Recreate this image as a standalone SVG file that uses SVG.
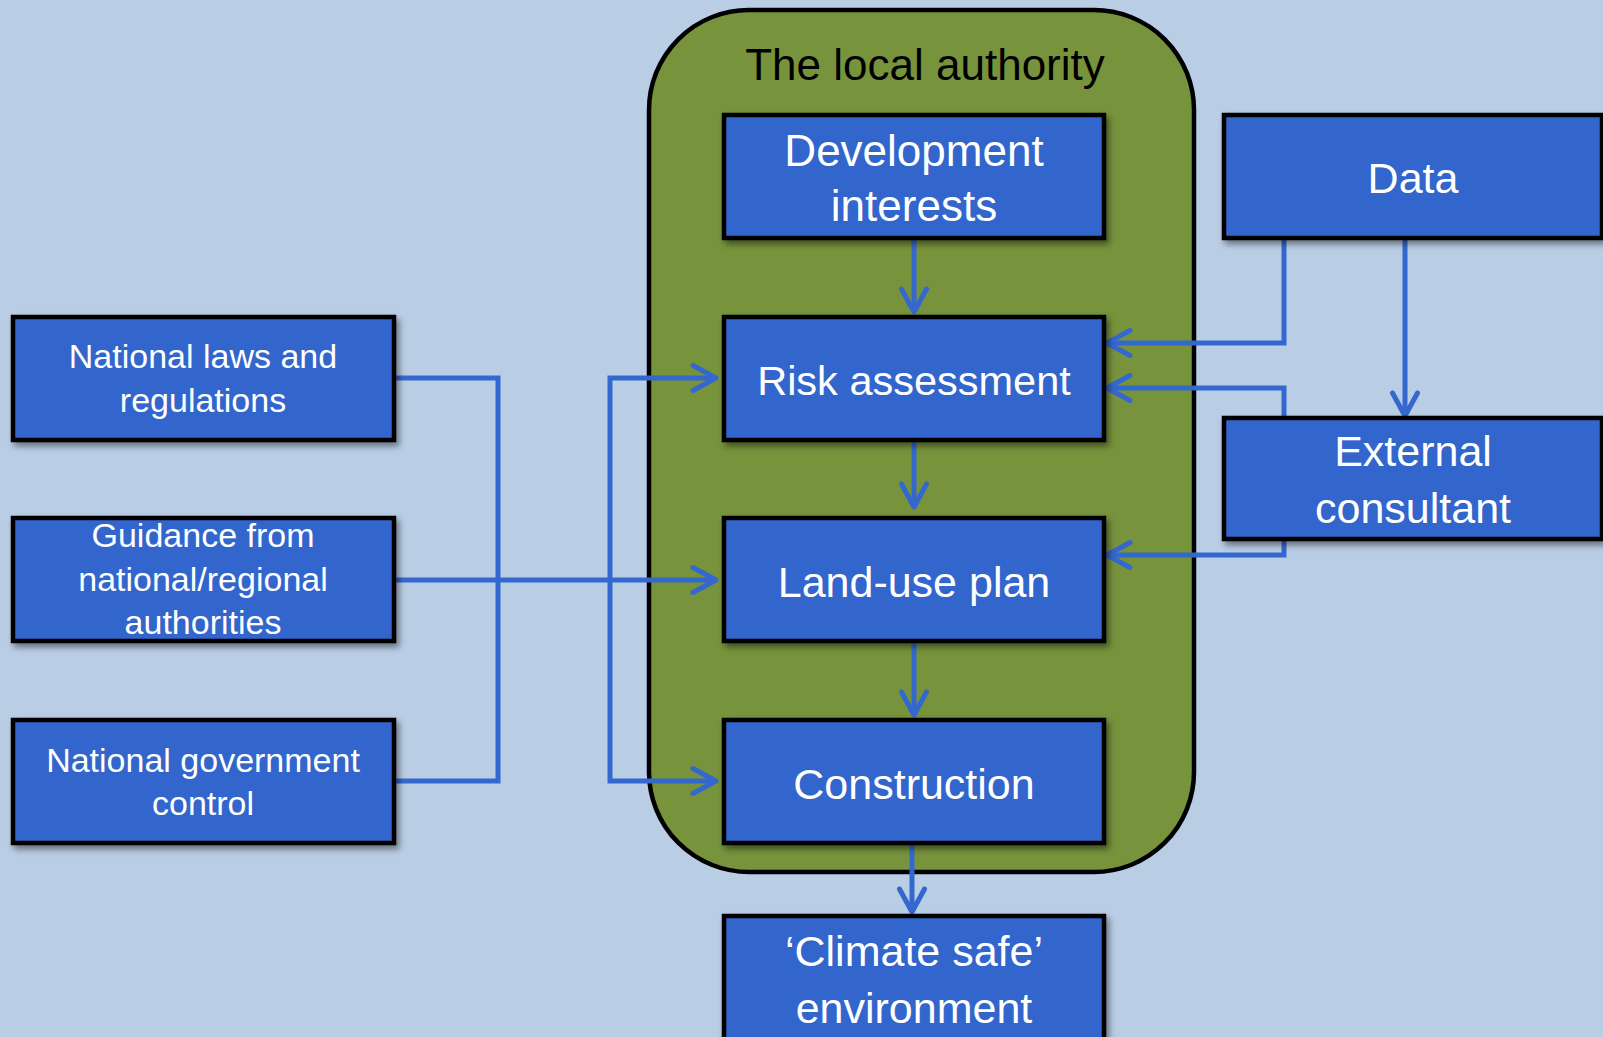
<svg xmlns="http://www.w3.org/2000/svg" width="1603" height="1037" viewBox="0 0 1603 1037">
<defs>
<style>
.box{fill:#3366CC;stroke:#000;stroke-width:4.5;filter:url(#sh)}
.t{font-family:"Liberation Sans",Arial,sans-serif;fill:#fff;text-anchor:middle;font-size:43px}
.ts{font-family:"Liberation Sans",Arial,sans-serif;fill:#fff;text-anchor:middle;font-size:34px}
.c{fill:none;stroke:#3568CF;stroke-width:5}
</style>
<filter id="sh" x="-10%" y="-10%" width="125%" height="130%">
<feDropShadow dx="3" dy="4" stdDeviation="3" flood-color="#000" flood-opacity="0.45"/>
</filter>
<marker id="ah" markerUnits="userSpaceOnUse" viewBox="-30 -16 34 32" refX="0" refY="0" markerWidth="34" markerHeight="32" orient="auto-start-reverse">
<path d="M-23 -12.5 L0 0 L-23 12.5" fill="none" stroke="#3568CF" stroke-width="5" stroke-linecap="round" stroke-linejoin="round"/>
</marker>
</defs>
<rect x="0" y="0" width="1603" height="1037" fill="#B9CDE5"/>
<g id="local-authority">
<rect x="649" y="10" width="545" height="862" rx="100" ry="100" fill="#77933C" stroke="#000" stroke-width="4.5"/>
<text x="925" y="80" font-family="Liberation Sans,Arial,sans-serif" font-size="44" fill="#000" text-anchor="middle">The local authority</text>
</g>
<g id="connectors">
<path class="c" d="M914 240 V312" marker-end="url(#ah)"/>
<path class="c" d="M914 442 V507" marker-end="url(#ah)"/>
<path class="c" d="M914 643 V715" marker-end="url(#ah)"/>
<path class="c" d="M912 844 V912" marker-end="url(#ah)"/>
<path class="c" d="M1284 239 V343 H1107" marker-end="url(#ah)"/>
<path class="c" d="M1405 239 V416" marker-end="url(#ah)"/>
<path class="c" d="M1284 416 V388 H1107" marker-end="url(#ah)"/>
<path class="c" d="M1284 541 V555 H1107" marker-end="url(#ah)"/>
<path class="c" d="M394 378 H498 V781 H394"/>
<path class="c" d="M394 580 H716" marker-end="url(#ah)"/>
<path class="c" d="M716 378 H610 V781 H716" marker-start="url(#ah)" marker-end="url(#ah)"/>
</g>
<g id="development-interests">
<rect class="box" x="724" y="115" width="380" height="123"/>
<text class="t" x="914" y="166" style="font-size:44px">Development</text>
<text class="t" x="914" y="221" style="font-size:44px">interests</text>
</g>
<g id="risk-assessment">
<rect class="box" x="724" y="317" width="380" height="123"/>
<text class="t" x="914" y="395" style="font-size:41.5px">Risk assessment</text>
</g>
<g id="land-use-plan">
<rect class="box" x="724" y="518" width="380" height="123"/>
<text class="t" x="914" y="597">Land-use plan</text>
</g>
<g id="construction">
<rect class="box" x="724" y="720" width="380" height="123"/>
<text class="t" x="914" y="799">Construction</text>
</g>
<g id="climate-safe">
<rect class="box" x="724" y="916" width="380" height="135"/>
<text class="t" x="914" y="966">‘Climate safe’</text>
<text class="t" x="914" y="1023">environment</text>
</g>
<g id="data">
<rect class="box" x="1224" y="115" width="378" height="123"/>
<text class="t" x="1413" y="193">Data</text>
</g>
<g id="external-consultant">
<rect class="box" x="1224" y="418" width="378" height="121"/>
<text class="t" x="1413" y="466">External</text>
<text class="t" x="1413" y="523">consultant</text>
</g>
<g id="national-laws">
<rect class="box" x="13" y="317" width="381" height="123"/>
<text class="ts" x="203" y="368">National laws and</text>
<text class="ts" x="203" y="412">regulations</text>
</g>
<g id="guidance">
<rect class="box" x="13" y="518" width="381" height="123"/>
<text class="ts" x="203" y="547">Guidance from</text>
<text class="ts" x="203" y="591">national/regional</text>
<text class="ts" x="203" y="634">authorities</text>
</g>
<g id="national-government">
<rect class="box" x="13" y="720" width="381" height="123"/>
<text class="ts" x="203" y="772">National government</text>
<text class="ts" x="203" y="815">control</text>
</g>
</svg>
